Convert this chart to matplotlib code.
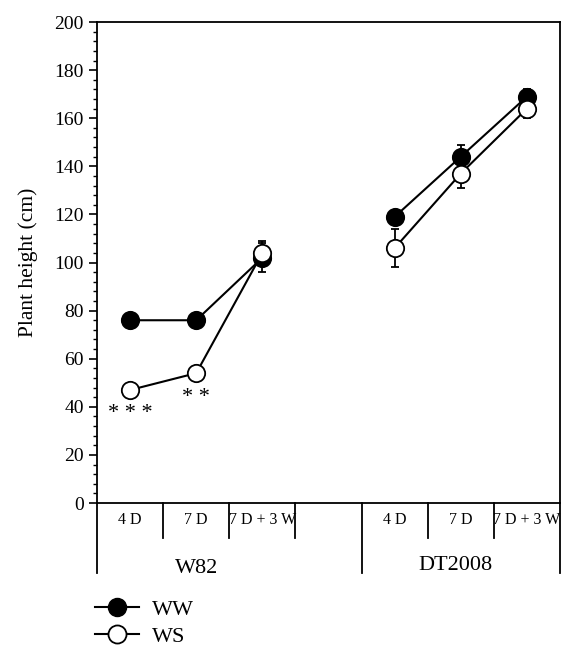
import numpy as np
import matplotlib.pyplot as plt
from matplotlib.lines import Line2D
from matplotlib.ticker import MultipleLocator

plt.rcParams['font.family'] = ['Liberation Serif', 'DejaVu Serif']

# positions of the three stages for each cultivar (slot 3 is left empty)
x_pos = [0, 1, 2, 4, 5, 6]
stages = ['4 D', '7 D', '7 D + 3 W', '4 D', '7 D', '7 D + 3 W']
groups = ['W82', 'DT2008']

ww_mean = [76, 76, 102, 119, 144, 169]
ww_err = [0, 0, 6, 3, 5, 3]
ws_mean = [47, 54, 104, 106, 137, 164]
ws_err = [0, 0, 5, 8, 6, 4]
stars = ['* * *', '* *', '', '', '', '']


def main():
    fig = plt.figure(figsize=(5.75, 6.56), dpi=100)
    ax = fig.add_axes([0.1687, 0.2332, 0.8052, 0.7332])

    style = dict(color='black', lw=1.5, ms=12.5, capsize=3, elinewidth=1.3,
                 capthick=1.3, markeredgewidth=1.3)
    for i in (slice(0, 3), slice(3, 6)):
        ax.errorbar(x_pos[i], ws_mean[i], yerr=ws_err[i], fmt='-o',
                    mfc='white', mec='black', zorder=3, **style)
        ax.errorbar(x_pos[i], ww_mean[i], yerr=ww_err[i], fmt='-o',
                    mfc='black', mec='black', zorder=2, **style)

    for x, y, s in zip(x_pos, ws_mean, stars):
        if s:
            ax.text(x, y - 6, s, ha='center', va='top', fontsize=16)

    ax.set_xlim(-0.5, 6.5)
    ax.set_ylim(0, 200)
    ax.yaxis.set_major_locator(MultipleLocator(20))
    ax.yaxis.set_minor_locator(MultipleLocator(4))
    ax.tick_params(axis='y', which='major', length=6, width=1.2,
                   labelsize=14, direction='out')
    ax.tick_params(axis='y', which='minor', length=3, width=1.0,
                   direction='out')
    ax.set_xticks([])
    ax.set_ylabel('Plant height (cm)', fontsize=15.5, labelpad=12)
    for sp in ax.spines.values():
        sp.set_linewidth(1.3)

    # category table under the axis
    trans = ax.get_xaxis_transform()
    for xd in (0.5, 1.5, 2.5, 4.5, 5.5):
        ax.plot([xd, xd], [0, -0.073], color='black', lw=1.3,
                transform=trans, clip_on=False)
    for xd in (-0.5, 3.5, 6.5):
        ax.plot([xd, xd], [0, -0.1455], color='black', lw=1.3,
                transform=trans, clip_on=False)
    for x, s in zip(x_pos, stages):
        ax.text(x, -0.036, s, transform=trans, ha='center', va='center',
                fontsize=11.5)
    ax.text(1.0, -0.137, groups[0], transform=trans, ha='center',
            va='center', fontsize=16)
    ax.text(4.92, -0.129, groups[1], transform=trans, ha='center',
            va='center', fontsize=16)

    handles = [
        Line2D([], [], color='black', lw=1.5, marker='o', ms=13,
               mfc='black', mec='black'),
        Line2D([], [], color='black', lw=1.5, marker='o', ms=13,
               mfc='white', mec='black', markeredgewidth=1.3),
    ]
    fig.legend(handles, ['WW', 'WS'], loc='upper left',
               bbox_to_anchor=(0.149, 0.1), frameon=False, fontsize=16,
               handlelength=2.0, labelspacing=0.3, handletextpad=0.6,
               borderaxespad=0)

    fig.savefig('out.png', dpi=100)


if __name__ == "__main__":
    main()
